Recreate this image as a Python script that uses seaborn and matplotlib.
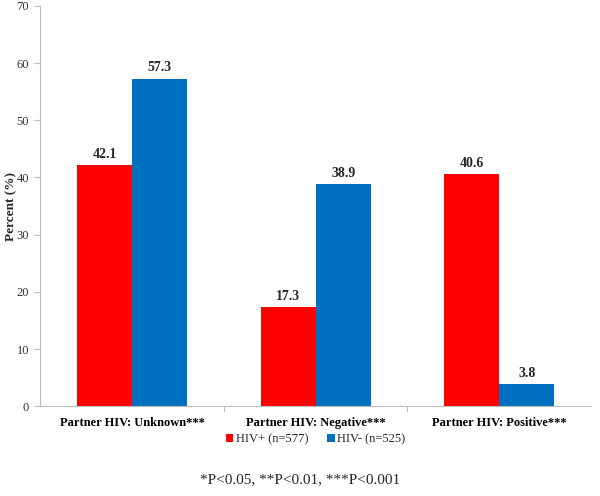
import pandas as pd
import numpy as np
import seaborn as sns
import matplotlib.pyplot as plt

sns.set_style("white")
plt.rcParams['font.family'] = ['Liberation Serif', 'DejaVu Serif']

categories = ['Partner HIV: Unknown***', 'Partner HIV: Negative***', 'Partner HIV: Positive***']
groups = ['HIV+ (n=577)', 'HIV- (n=525)']
hiv_pos = [42.1, 17.3, 40.6]
hiv_neg = [57.3, 38.9, 3.8]

df = pd.DataFrame({
    'Category': categories * 2,
    'Group': [groups[0]] * 3 + [groups[1]] * 3,
    'Percent': hiv_pos + hiv_neg,
})

fig = plt.figure(figsize=(6, 4.96), dpi=100)
ax = fig.add_axes([0.067, 0.181, 0.918, 0.807])

sns.barplot(data=df, x='Category', y='Percent', hue='Group',
            palette=['#FF0000', '#0070C0'], width=0.6, saturation=1,
            linewidth=0, ax=ax)

for cont in ax.containers:
    ax.bar_label(cont, fmt='%.1f', padding=3, fontsize=10, fontweight='bold')

ax.set_ylim(0, 70)
ax.set_xlim(-0.5, 2.5)
ax.set_yticks(range(0, 71, 10))
ax.set_xlabel('')
ax.set_ylabel('Percent (%)', fontsize=9.5, fontweight='bold')
ax.yaxis.set_label_coords(-0.041, 0.5)
ax.tick_params(axis='y', labelsize=9, colors='#BBBBBB', length=4, left=True,
               direction='out', pad=4)
ax.tick_params(axis='x', labelsize=9, length=0, pad=8)
for lbl in ax.get_xticklabels():
    lbl.set_fontweight('bold')
    lbl.set_color('black')
for lbl in ax.get_yticklabels():
    lbl.set_color('#333333')
for b in [0.5, 1.5]:
    ax.plot([b, b], [0, -0.8], color='#BBBBBB', lw=0.8, clip_on=False)

sns.despine(ax=ax, top=True, right=True)
ax.spines['left'].set_color('#BBBBBB')
ax.spines['bottom'].set_color('#BBBBBB')

ax.legend(loc='upper center', bbox_to_anchor=(0.5, -0.04), ncol=2, frameon=False,
          fontsize=9, handlelength=0.6, handleheight=0.6, handletextpad=0.2,
          columnspacing=1.5)

fig.text(0.5, 0.032, '*P<0.05, **P<0.01, ***P<0.001', ha='center', va='center',
         fontsize=11)

fig.savefig('out.png', dpi=100)
